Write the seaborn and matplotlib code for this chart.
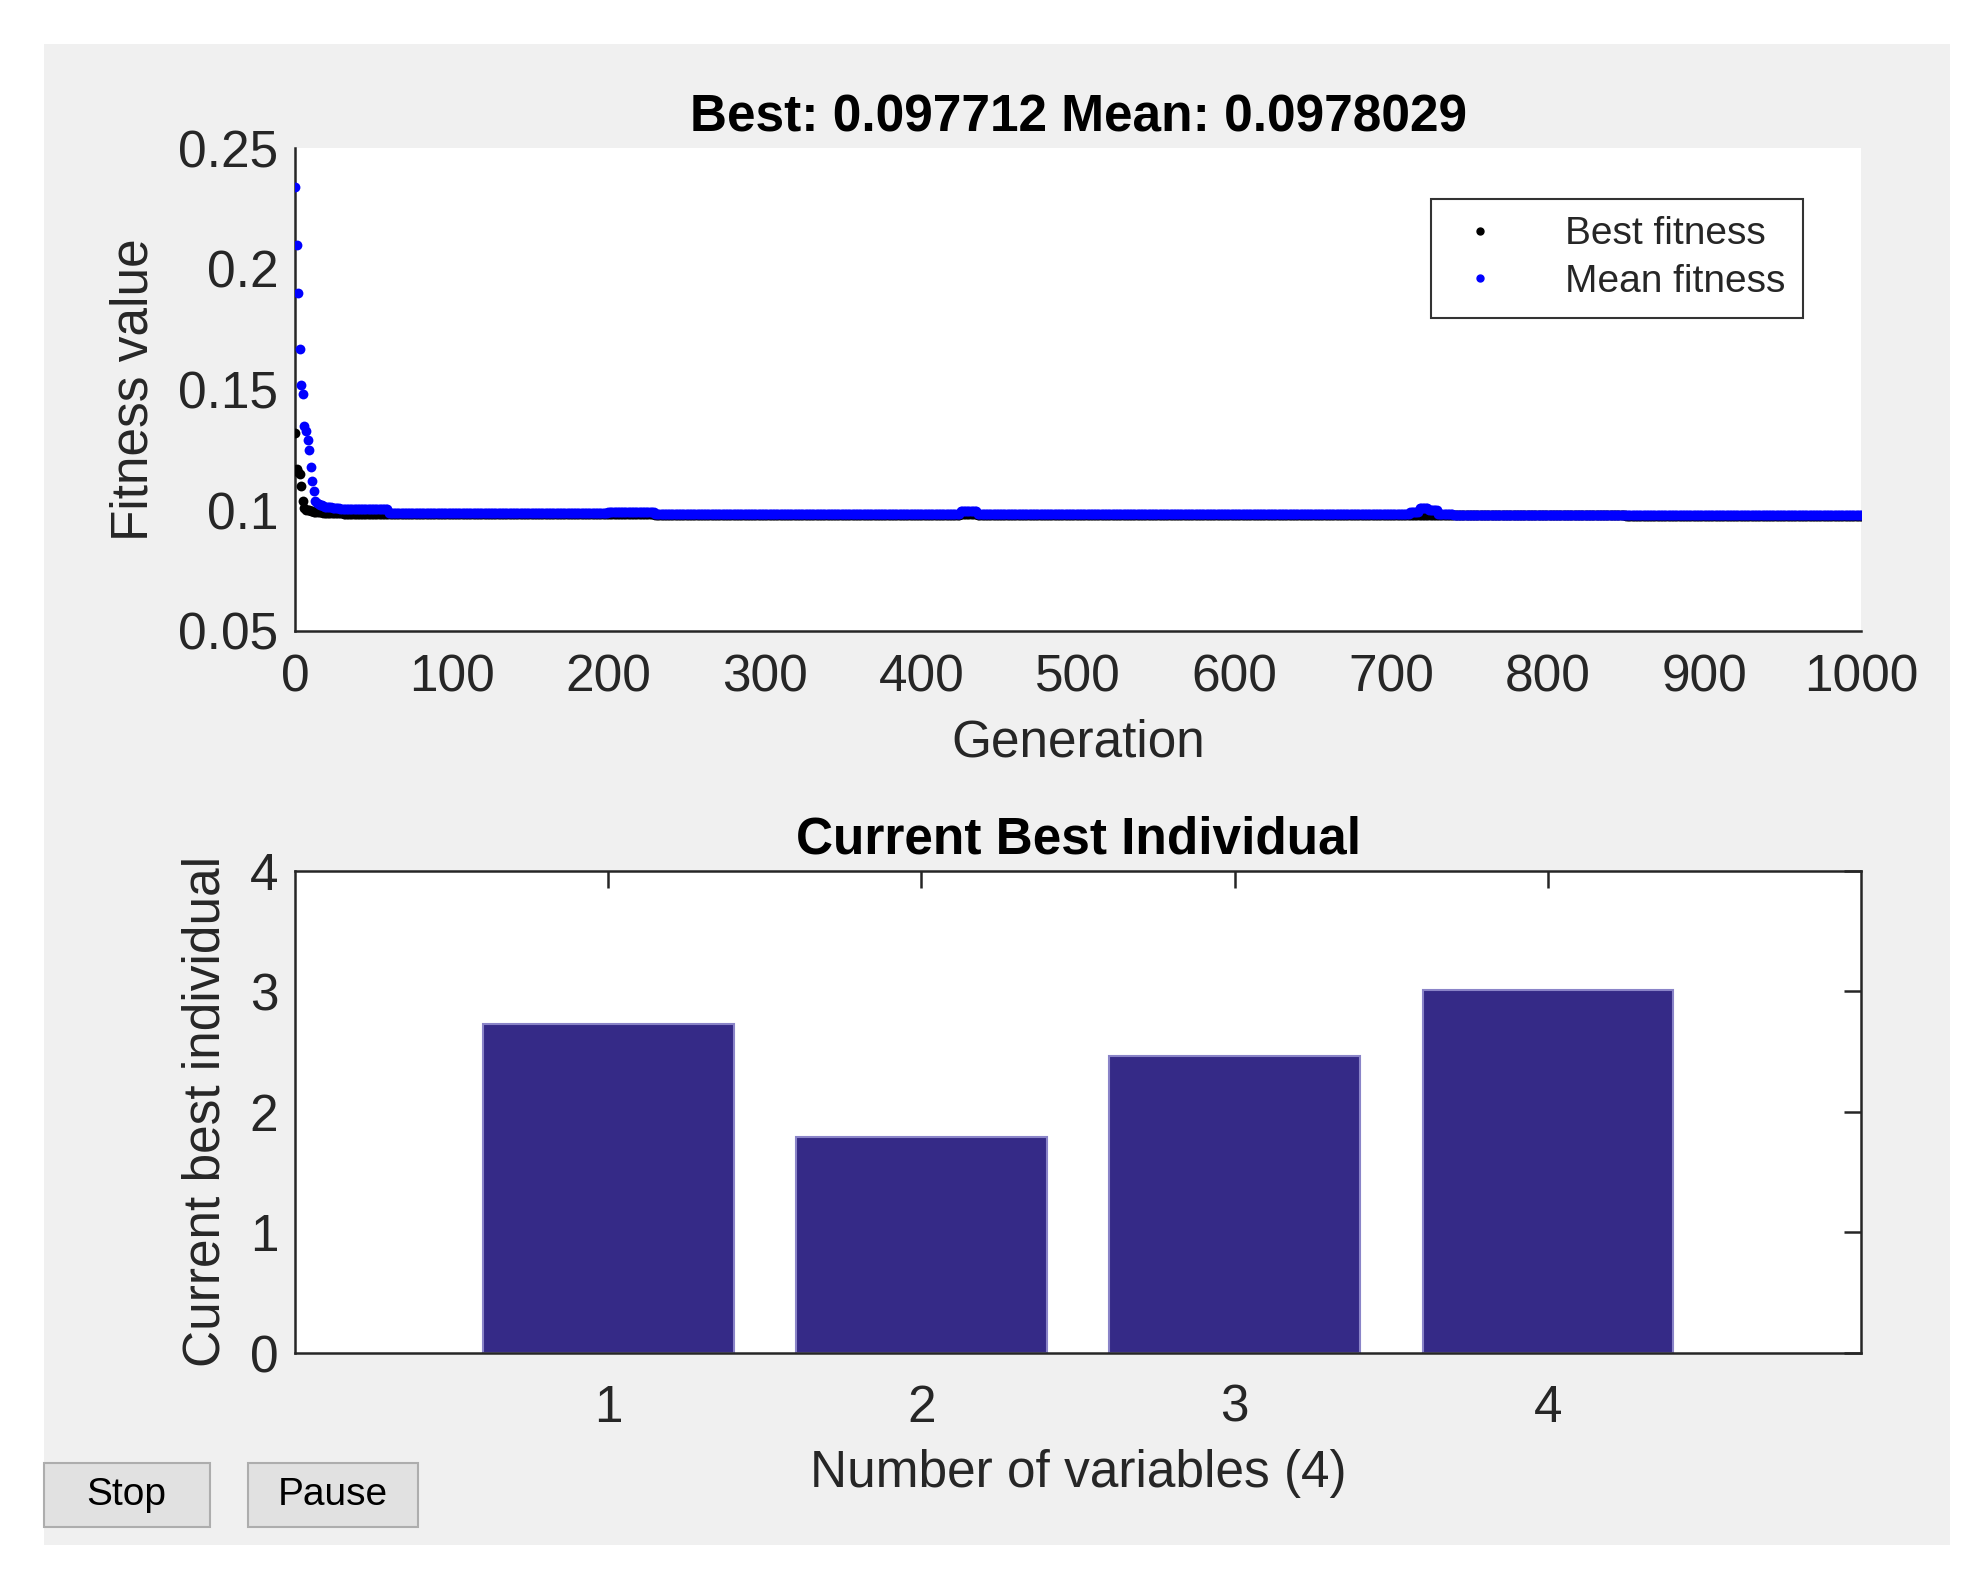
import numpy as np
import pandas as pd
import matplotlib
matplotlib.use("Agg")
import matplotlib.pyplot as plt
from matplotlib.patches import Rectangle
from matplotlib.lines import Line2D
import seaborn as sns

# ---- data ----
early_gen = list(range(0, 31))
mean_early = [0.234, 0.210, 0.190, 0.167, 0.152, 0.148, 0.135, 0.133, 0.129, 0.125,
              0.118, 0.112, 0.108, 0.104, 0.103, 0.1025, 0.102, 0.102, 0.1018, 0.1015,
              0.1015, 0.1013, 0.1012, 0.1012, 0.1010, 0.1010, 0.1010, 0.1008, 0.1008, 0.1006, 0.1006]
best_early = [0.132, 0.117, 0.116, 0.115, 0.110, 0.104, 0.101, 0.100, 0.100, 0.100,
              0.0995, 0.0995, 0.0993, 0.0993, 0.0992, 0.0992, 0.0991, 0.0991, 0.0990, 0.0990,
              0.0990, 0.0990, 0.0990, 0.0989, 0.0989, 0.0989, 0.0989, 0.0989, 0.0988, 0.0988, 0.0988]
# plateau segments: (first generation, last generation, mean value, best value)
seg_start = [31, 60, 200, 230, 425, 436, 712, 718, 724, 730, 740, 850]
seg_end   = [59, 199, 229, 424, 435, 711, 717, 723, 729, 739, 849, 1000]
seg_mean  = [0.1003, 0.0990, 0.0992, 0.0985, 0.0995, 0.0984, 0.0992, 0.1010, 0.1002, 0.0986, 0.0981, 0.0979]
seg_best  = [0.0986, 0.0985, 0.0985, 0.0982, 0.0984, 0.0981, 0.0981, 0.0979, 0.0979, 0.0979, 0.0978, 0.09771]

bar_vars = [1, 2, 3, 4]
bar_vals = [2.73, 1.79, 2.46, 3.01]

gens = list(early_gen)
mean_v = list(mean_early)
best_v = list(best_early)
for s, e, m, b in zip(seg_start, seg_end, seg_mean, seg_best):
    n = e - s + 1
    gens += list(range(s, e + 1))
    mean_v += [m] * n
    best_v += [b] * n
df = pd.DataFrame({"gen": gens, "mean": mean_v, "best": best_v})

sns.set_theme(style="white")
plt.rcParams["font.family"] = ["Liberation Sans", "DejaVu Sans"]
plt.rcParams["xtick.direction"] = "in"
plt.rcParams["ytick.direction"] = "in"

fig = plt.figure(figsize=(19.8, 15.77), dpi=100)
fig.patch.set_facecolor("white")
fig.patches.append(Rectangle((0.022, 0.020), 0.963, 0.952, transform=fig.transFigure,
                             facecolor="#f0f0f0", edgecolor="none", zorder=-5))

FS = 37
tc = "#262626"

ax1 = fig.add_axes([0.149, 0.600, 0.791, 0.306])
sns.scatterplot(data=df, x="gen", y="best", ax=ax1, color="black", s=50, linewidth=0, zorder=3)
sns.scatterplot(data=df, x="gen", y="mean", ax=ax1, color="blue", s=50, linewidth=0, zorder=4)
ax1.set_xlim(0, 1000)
ax1.set_ylim(0.05, 0.25)
ax1.set_xticks(range(0, 1001, 100))
ax1.set_yticks([0.05, 0.1, 0.15, 0.2, 0.25])
ax1.set_yticklabels(["0.05", "0.1", "0.15", "0.2", "0.25"])
ax1.set_xlabel("Generation", fontsize=FS, color=tc, labelpad=12)
ax1.set_ylabel("Fitness value", fontsize=FS, color=tc, labelpad=14)
ax1.set_title("Best: 0.097712 Mean: 0.0978029", fontsize=FS, fontweight="bold", pad=12,
              color="black")
for sp in ["top", "right"]:
    ax1.spines[sp].set_visible(False)
for sp in ["left", "bottom"]:
    ax1.spines[sp].set_color(tc)
    ax1.spines[sp].set_linewidth(1.8)
ax1.tick_params(labelsize=FS, colors=tc, length=12, width=1.8, pad=16)
ax1.tick_params(axis="y", pad=12)
handles = [Line2D([], [], ls="", marker=".", color="black", markersize=10),
           Line2D([], [], ls="", marker=".", color="blue", markersize=10)]
leg = ax1.legend(handles, ["Best fitness", "Mean fitness"], loc="upper right",
                 bbox_to_anchor=(0.963, 0.895), borderaxespad=0, fontsize=28, frameon=True,
                 fancybox=False, edgecolor="black", borderpad=0.45, handlelength=1.6,
                 handletextpad=1.4, labelspacing=0.3)
leg.get_frame().set_linewidth(1.5)

ax2 = fig.add_axes([0.149, 0.142, 0.791, 0.306])
bdf = pd.DataFrame({"var": bar_vars, "val": bar_vals})
sns.barplot(data=bdf, x="var", y="val", ax=ax2, native_scale=True, color="#352a87",
            saturation=1, width=0.8, edgecolor="#8a84c8", linewidth=1.5)
ax2.set_xlim(0, 5)
ax2.set_ylim(0, 4)
ax2.set_xticks([1, 2, 3, 4])
ax2.set_yticks([0, 1, 2, 3, 4])
ax2.set_xlabel("Number of variables (4)", fontsize=FS, color=tc, labelpad=12)
ax2.set_ylabel("Current best individual", fontsize=FS, color=tc, labelpad=14)
ax2.set_title("Current Best Individual", fontsize=FS, fontweight="bold", pad=12, color="black")
for sp in ax2.spines.values():
    sp.set_color(tc)
    sp.set_linewidth(1.8)
ax2.tick_params(labelsize=FS, colors=tc, length=12, width=1.8, pad=22,
                top=True, right=True)
ax2.tick_params(axis="y", pad=12)

for x0, w, lab in [(0.022, 0.084, "Stop"), (0.125, 0.086, "Pause")]:
    fig.patches.append(Rectangle((x0, 0.032), w, 0.040, transform=fig.transFigure,
                                 facecolor="#e1e1e1", edgecolor="#adadad", linewidth=1.5))
    fig.text(x0 + w / 2, 0.052, lab, fontsize=28, ha="center", va="center", color="black")

fig.savefig("out.png", dpi=100)
